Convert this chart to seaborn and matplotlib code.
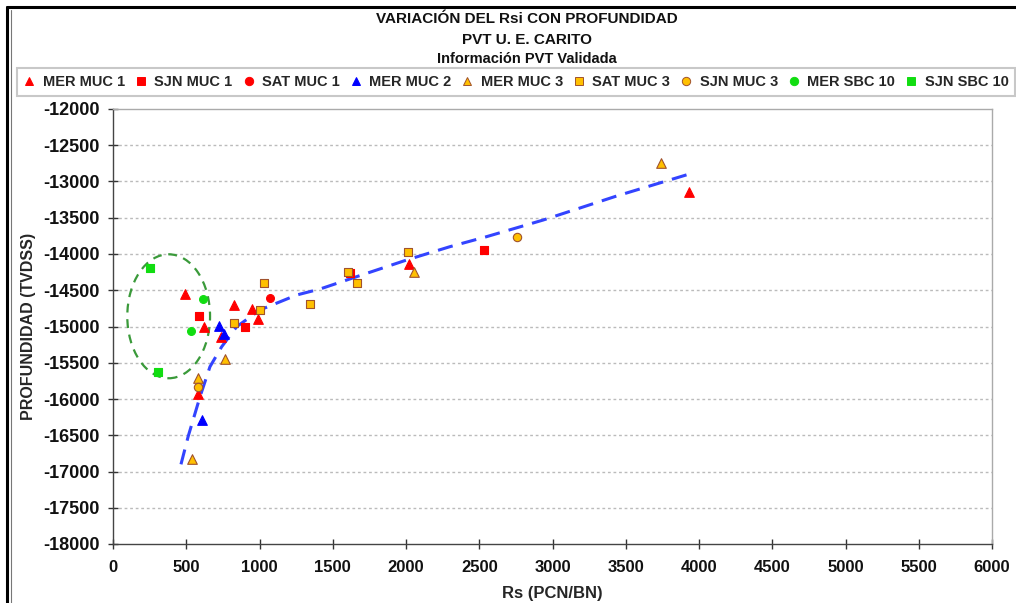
import numpy as np
import pandas as pd
import matplotlib
matplotlib.use("Agg")
import matplotlib.pyplot as plt
from matplotlib.patches import Ellipse
from matplotlib.lines import Line2D
from matplotlib.ticker import MultipleLocator, FormatStrFormatter
import seaborn as sns

# ---- data: Rs (PCN/BN) and depth (TVDSS) per well / sand ----
series_names = ["MER MUC 1", "SJN MUC 1", "SAT MUC 1", "MER MUC 2", "MER MUC 3",
                "SAT MUC 3", "SJN MUC 3", "MER SBC 10", "SJN SBC 10"]

mer_muc1_rs = [491, 621, 737, 826, 951, 987, 578, 2023, 3929]
mer_muc1_prof = [-14556, -15011, -15140, -14708, -14763, -14897, -15931, -14142, -13149]

sjn_muc1_rs = [589, 903, 1618, 2532]
sjn_muc1_prof = [-14855, -15002, -14266, -13940]

sat_muc1_rs = [1069]
sat_muc1_prof = [-14611]

mer_muc2_rs = [725, 758, 608]
mer_muc2_prof = [-14989, -15108, -16290]

mer_muc3_rs = [764, 578, 537, 2057, 3741]
mer_muc3_prof = [-15453, -15706, -16828, -14244, -12740]

sat_muc3_rs = [828, 1003, 1033, 1345, 1604, 1663, 2011]
sat_muc3_prof = [-14956, -14772, -14404, -14694, -14253, -14404, -13977]

sjn_muc3_rs = [578, 2758]
sjn_muc3_prof = [-15839, -13761]

mer_sbc10_rs = [614, 535]
mer_sbc10_prof = [-14625, -15058]

sjn_sbc10_rs = [255, 309]
sjn_sbc10_prof = [-14197, -15628]

# trend curve Rs vs depth
trend_rs = [464, 514, 594, 662, 742, 844, 1003, 1253, 1413, 1663, 2004, 2300, 2550, 2937, 3438, 3950]
trend_prof = [-16901, -16510, -15968, -15554, -15279, -15003, -14772, -14566, -14483,
              -14313, -14083, -13899, -13761, -13531, -13200, -12887]

x_ticks = list(range(0, 6001, 500))
y_ticks = list(range(-18000, -11999, 500))

# ---- assemble table ----
rs_lists = [mer_muc1_rs, sjn_muc1_rs, sat_muc1_rs, mer_muc2_rs, mer_muc3_rs,
            sat_muc3_rs, sjn_muc3_rs, mer_sbc10_rs, sjn_sbc10_rs]
prof_lists = [mer_muc1_prof, sjn_muc1_prof, sat_muc1_prof, mer_muc2_prof, mer_muc3_prof,
              sat_muc3_prof, sjn_muc3_prof, mer_sbc10_prof, sjn_sbc10_prof]
rows = []
for name, rs, pf in zip(series_names, rs_lists, prof_lists):
    for a, b in zip(rs, pf):
        rows.append({"Rs": a, "Prof": b, "Serie": name})
df = pd.DataFrame(rows)

RED = "#FF0000"
BLUE = "#0000FF"
GOLD = "#FFC000"
BROWN = "#A0522D"
GREEN = "#11DD11"

styles = {
    "MER MUC 1": dict(marker="^", face=RED, edge=RED, s=48),
    "SJN MUC 1": dict(marker="s", face=RED, edge=RED, s=32),
    "SAT MUC 1": dict(marker="o", face=RED, edge=RED, s=32),
    "MER MUC 2": dict(marker="^", face=BLUE, edge=BLUE, s=48),
    "MER MUC 3": dict(marker="^", face=GOLD, edge=BROWN, s=48),
    "SAT MUC 3": dict(marker="s", face=GOLD, edge=BROWN, s=36),
    "SJN MUC 3": dict(marker="o", face=GOLD, edge=BROWN, s=36),
    "MER SBC 10": dict(marker="o", face=GREEN, edge=GREEN, s=32),
    "SJN SBC 10": dict(marker="s", face=GREEN, edge=GREEN, s=36),
}

sns.set_theme(style="white")
plt.rcParams["font.family"] = ["Liberation Sans", "DejaVu Sans"]
plt.rcParams["font.weight"] = "bold"

fig = plt.figure(figsize=(10.16, 6.03), dpi=100)
ax = fig.add_axes([113 / 1016, 1 - 544 / 603, (992 - 113) / 1016, (544 - 109) / 603])

# grid lines at the major depth ticks
for yv in y_ticks[1:-1]:
    ax.axhline(yv, color="#BBBBBB", lw=1.0, ls=(0, (2, 2)), zorder=0)

# ellipse around the SBC 10 samples
ax.add_patch(Ellipse((380, -14859), 565, 1710, fill=False, edgecolor="#3A9A3A",
                     lw=1.6, ls=(0, (4, 3)), zorder=2))

# trend curve
sns.lineplot(x=trend_rs, y=trend_prof, sort=False, ax=ax, color="#3344FF", lw=2.2,
             zorder=3, legend=False)
ax.lines[-1].set_dashes((5, 3))

for name in series_names:
    st = styles[name]
    sub = df[df["Serie"] == name]
    sns.scatterplot(data=sub, x="Rs", y="Prof", marker=st["marker"], color=st["face"],
                    edgecolor=st["edge"], linewidth=0.8, s=st["s"], ax=ax, zorder=4,
                    legend=False)

ax.set_xlim(0, 6000)
ax.set_ylim(-18000, -12000)
ax.set_xticks(x_ticks)
ax.set_yticks(y_ticks)
ax.xaxis.set_minor_locator(MultipleLocator(100))
ax.yaxis.set_minor_locator(MultipleLocator(100))
ax.yaxis.set_major_formatter(FormatStrFormatter("%d"))
ax.xaxis.set_major_formatter(FormatStrFormatter("%d"))

ax.tick_params(axis="both", which="major", direction="inout", length=7, width=1.0,
               color="#333333", labelsize=12, labelcolor="#111111")
ax.tick_params(axis="both", which="minor", direction="out", length=3.5, width=0.8,
               color="#333333")
ax.tick_params(axis="y", which="major", pad=6, left=True, labelsize=13)
ax.tick_params(axis="x", which="major", pad=8, bottom=True)
for lab in ax.get_xticklabels() + ax.get_yticklabels():
    lab.set_fontweight("bold")

for side in ["left", "bottom"]:
    ax.spines[side].set_color("#444444")
    ax.spines[side].set_linewidth(1.0)
for side in ["top", "right"]:
    ax.spines[side].set_color("#AAAAAA")
    ax.spines[side].set_linewidth(1.0)

ax.set_xlabel("Rs (PCN/BN)", fontsize=12, fontweight="bold", labelpad=8)
ax.set_ylabel("PROFUNDIDAD (TVDSS)", fontsize=11.5, fontweight="bold")
ax.yaxis.set_label_coords(-(113 - 36) / 879, 0.5)

# titles
fig.text(0.519, 1 - 19 / 603, "VARIACIÓN DEL Rsi CON PROFUNDIDAD", ha="center", va="center",
         fontsize=11, fontweight="bold", color="#111111")
fig.text(0.519, 1 - 40 / 603, "PVT U. E. CARITO", ha="center", va="center",
         fontsize=11, fontweight="bold", color="#111111")
fig.text(0.519, 1 - 59 / 603, "Información PVT Validada", ha="center", va="center",
         fontsize=10.5, fontweight="bold", color="#111111")

# legend row
handles = []
for name in series_names:
    st = styles[name]
    handles.append(Line2D([], [], ls="none", marker=st["marker"], markersize=6,
                          markerfacecolor=st["face"], markeredgecolor=st["edge"],
                          markeredgewidth=0.7))
leg = fig.legend(handles, series_names, loc="center", ncol=9,
                 bbox_to_anchor=(17 / 1016, 1 - 95 / 603, (1015 - 17) / 1016, 26 / 603),
                 mode="expand", frameon=True, fancybox=False, handlelength=0.8,
                 handletextpad=0.5, borderaxespad=0, borderpad=0.45, columnspacing=1.0,
                 prop={"weight": "bold", "size": 10.5, "family": ["Liberation Sans"]})
leg.get_frame().set_edgecolor("#BBBBBB")
leg.get_frame().set_linewidth(1.5)

# outer border
fig.add_artist(Line2D([7 / 1016, 7 / 1016], [0, 1 - 7 / 603], transform=fig.transFigure,
                      color="black", lw=2.2))
fig.add_artist(Line2D([10.5 / 1016, 10.5 / 1016], [0, 1 - 10 / 603], transform=fig.transFigure,
                      color="#777777", lw=0.8))
fig.add_artist(Line2D([7 / 1016, 1], [1 - 7 / 603, 1 - 7 / 603], transform=fig.transFigure,
                      color="black", lw=2.2))

fig.savefig("out.png", dpi=100, facecolor="white")
